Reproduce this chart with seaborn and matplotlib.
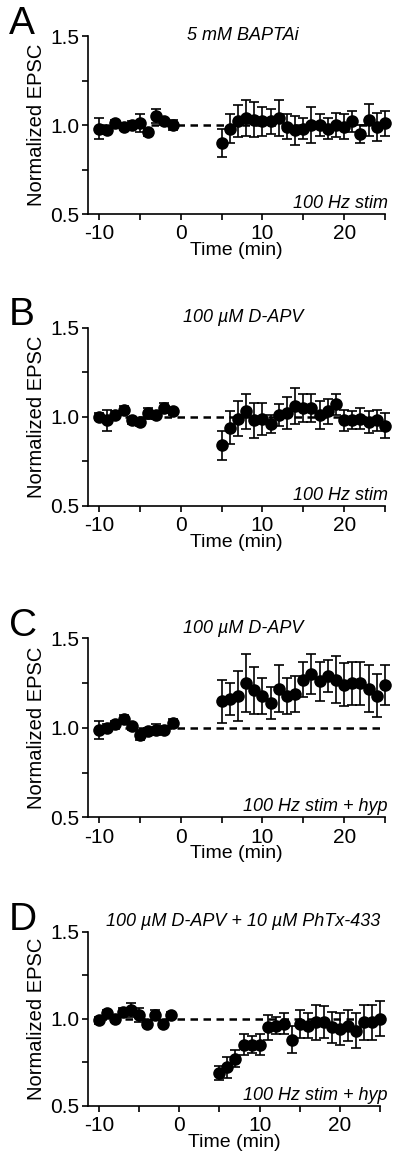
import numpy as np
import pandas as pd
import matplotlib as mpl
import matplotlib.pyplot as plt
import seaborn as sns

# ── Data ─────────────────────────────────────────────────────────────────────
TIME = [-10, -9, -8, -7, -6, -5, -4, -3, -2, -1,
        5, 6, 7, 8, 9, 10, 11, 12, 13, 14, 15, 16, 17, 18, 19, 20, 21, 22, 23, 24, 25]

A_MEAN = [0.98, 0.97, 1.01, 0.99, 1.00, 1.01, 0.96, 1.05, 1.02, 1.00,
          0.90, 0.98, 1.02, 1.04, 1.03, 1.02, 1.02, 1.04, 0.99, 0.97, 0.98,
          1.00, 1.00, 0.98, 1.00, 0.99, 1.02, 0.95, 1.03, 0.99, 1.01]
A_SEM = [0.06, 0.02, 0.02, 0.02, 0.02, 0.05, 0.02, 0.04, 0.02, 0.03,
         0.08, 0.08, 0.09, 0.10, 0.10, 0.08, 0.07, 0.10, 0.07, 0.08, 0.06,
         0.10, 0.06, 0.06, 0.07, 0.07, 0.06, 0.05, 0.09, 0.08, 0.07]

B_MEAN = [1.00, 0.98, 1.01, 1.04, 0.98, 0.97, 1.02, 1.01, 1.05, 1.03,
          0.84, 0.94, 0.99, 1.03, 0.98, 0.99, 0.96, 1.01, 1.02, 1.06, 1.05,
          1.05, 1.01, 1.03, 1.07, 0.98, 0.98, 0.99, 0.97, 0.98, 0.95]
B_SEM = [0.02, 0.06, 0.02, 0.02, 0.02, 0.02, 0.03, 0.02, 0.03, 0.02,
         0.08, 0.09, 0.10, 0.10, 0.10, 0.09, 0.05, 0.06, 0.09, 0.10, 0.08,
         0.08, 0.08, 0.07, 0.06, 0.06, 0.05, 0.06, 0.06, 0.06, 0.07]

C_MEAN = [0.99, 1.00, 1.02, 1.05, 1.01, 0.96, 0.98, 0.99, 0.99, 1.03,
          1.15, 1.16, 1.18, 1.25, 1.21, 1.18, 1.14, 1.22, 1.18, 1.19, 1.27,
          1.30, 1.26, 1.29, 1.27, 1.24, 1.25, 1.25, 1.22, 1.18, 1.24]
C_SEM = [0.05, 0.02, 0.02, 0.02, 0.02, 0.03, 0.02, 0.03, 0.02, 0.02,
         0.12, 0.09, 0.14, 0.16, 0.13, 0.10, 0.09, 0.13, 0.10, 0.10, 0.10,
         0.11, 0.11, 0.09, 0.13, 0.12, 0.12, 0.12, 0.13, 0.12, 0.11]

D_MEAN = [0.99, 1.03, 1.00, 1.04, 1.05, 1.02, 0.97, 1.02, 0.97, 1.02,
          0.69, 0.72, 0.77, 0.85, 0.85, 0.85, 0.95, 0.96, 0.97, 0.88, 0.97,
          0.96, 0.98, 0.98, 0.95, 0.94, 0.96, 0.93, 0.98, 0.98, 1.00]
D_SEM = [0.02, 0.02, 0.02, 0.02, 0.04, 0.04, 0.02, 0.03, 0.02, 0.02,
         0.04, 0.06, 0.05, 0.06, 0.05, 0.06, 0.07, 0.05, 0.06, 0.08, 0.08,
         0.07, 0.10, 0.09, 0.09, 0.09, 0.09, 0.10, 0.10, 0.10, 0.10]

LETTERS = ["A", "B", "C", "D"]
TITLES = ["5 mM BAPTAi", "100 µM D-APV", "100 µM D-APV", "100 µM D-APV + 10 µM PhTx-433"]
CONDITIONS = ["100 Hz stim", "100 Hz stim", "100 Hz stim + hyp", "100 Hz stim + hyp"]

# ── Style ────────────────────────────────────────────────────────────────────
sns.set_theme(style="ticks")
mpl.rcParams.update({
    "font.family": ["Liberation Sans", "DejaVu Sans"],
    "text.color": "black", "axes.labelcolor": "black",
    "axes.linewidth": 1.2, "axes.edgecolor": "black",
    "xtick.major.width": 1.2, "ytick.major.width": 1.2,
    "xtick.minor.width": 1.2, "ytick.minor.width": 1.2,
    "xtick.major.size": 4.5, "ytick.major.size": 4.5,
    "xtick.minor.size": 4.5, "ytick.minor.size": 4.5,
    "xtick.color": "black", "ytick.color": "black",
    "xtick.labelsize": 15, "ytick.labelsize": 15,
    "axes.grid": False,
})

# axes boxes in figure fraction: left, bottom, width, height
BOXES = [
    (0.220, 0.8169, 0.7425, 0.1523),
    (0.220, 0.5672, 0.7425, 0.1525),
    (0.220, 0.3008, 0.7425, 0.1531),
    (0.220, 0.0542, 0.7300, 0.1488),
]
TITLE_Y = [1.48, 1.53, 1.53, 1.53]
COND_X = [1.01, 1.01, 1.01, 1.025]
XLEFT = [-11.35, -11.35, -11.35, -11.37]


def panel(ax, mean, sem, letter, title, cond, title_y, cond_x, xleft):
    df = pd.DataFrame({"time": TIME, "epsc": mean, "sem": sem})
    ax.hlines(1.0, -10, 25, colors="black", linestyles=(0, (3.0, 2.2)), lw=1.8, zorder=1)
    ax.errorbar(df["time"], df["epsc"], yerr=df["sem"], fmt="none", ecolor="black",
                elinewidth=1.2, capsize=3.8, capthick=1.2, zorder=2, clip_on=False)
    sns.scatterplot(data=df, x="time", y="epsc", ax=ax, color="black", s=82,
                    edgecolor="black", linewidth=0, zorder=3, legend=False, clip_on=False)

    ax.set_xlim(xleft, 25)
    ax.set_ylim(0.5, 1.5)
    ax.set_xticks([-10, 0, 10, 20])
    ax.set_xticks([-5, 5, 15, 25], minor=True)
    ax.set_yticks([0.5, 1.0, 1.5])
    ax.set_yticks([0.75, 1.25], minor=True)
    ax.set_yticklabels(["0.5", "1.0", "1.5"])
    ax.set_xticklabels(["-10", "0", "10", "20"])
    ax.tick_params(axis="x", which="both", direction="out", pad=3)
    ax.tick_params(axis="y", which="both", direction="out", pad=1.5)
    ax.spines["top"].set_visible(False)
    ax.spines["right"].set_visible(False)
    ax.spines["left"].set_bounds(0.5, 1.5)
    ax.set_xlabel("Time (min)", fontsize=14, labelpad=-1)
    ax.set_ylabel("Normalized EPSC", fontsize=14.5, labelpad=3)

    ax.text(0.607, title_y, title, transform=mpl.transforms.blended_transform_factory(
        ax.figure.transFigure, ax.transData), ha="center", va="baseline",
        fontsize=13, style="italic")
    ax.text(cond_x, 0.535, cond, transform=mpl.transforms.blended_transform_factory(
        ax.transAxes, ax.transData), ha="right", va="baseline", fontsize=13, style="italic")
    ax.text(0.022, 1.17, letter, transform=mpl.transforms.blended_transform_factory(
        ax.figure.transFigure, ax.transAxes), ha="left", va="top", fontsize=28)


fig = plt.figure(figsize=(4.0, 11.69), dpi=100)
panels = [(A_MEAN, A_SEM), (B_MEAN, B_SEM), (C_MEAN, C_SEM), (D_MEAN, D_SEM)]
for i, (mean, sem) in enumerate(panels):
    ax = fig.add_axes(BOXES[i])
    panel(ax, mean, sem, LETTERS[i], TITLES[i], CONDITIONS[i], TITLE_Y[i], COND_X[i], XLEFT[i])

fig.savefig("out.png", dpi=100, facecolor="white")
plt.close(fig)
